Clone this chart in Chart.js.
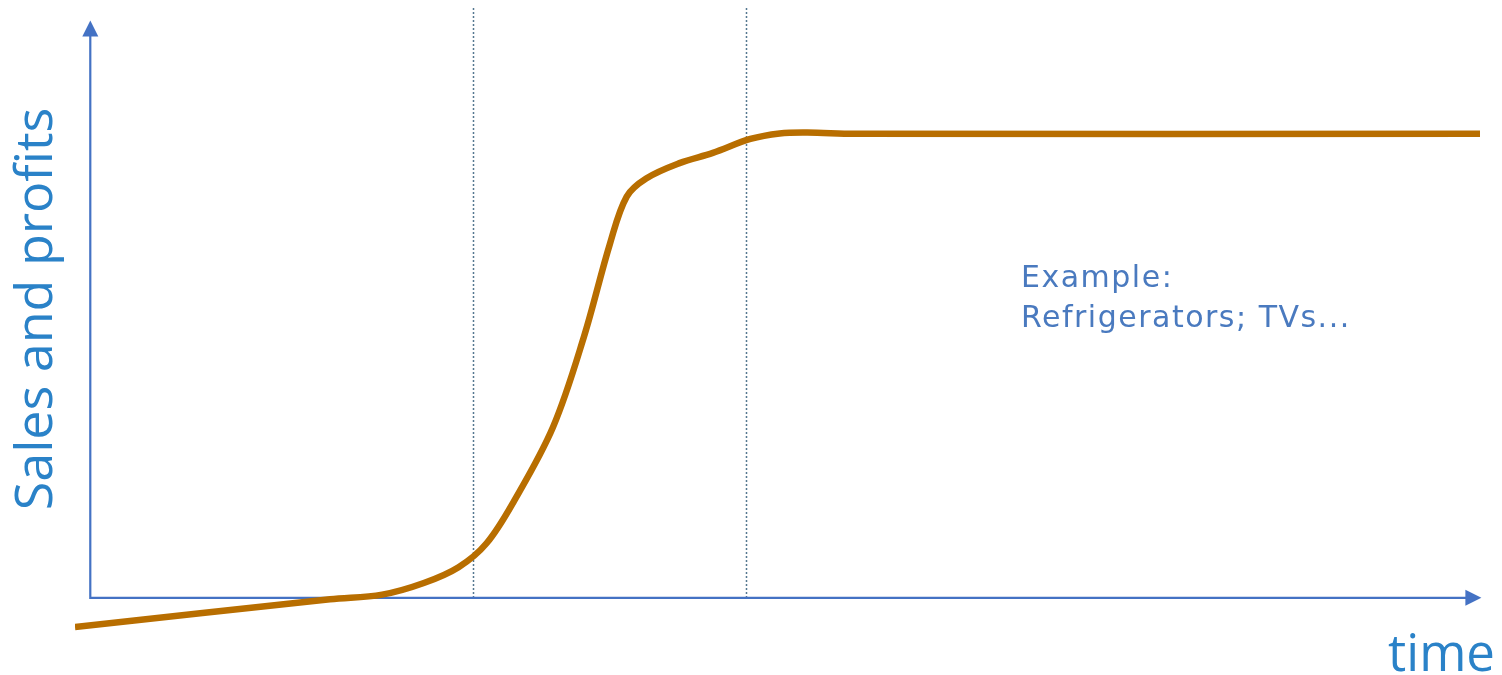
<!DOCTYPE html>
<html>
<head>
<meta charset="utf-8">
<script src="https://cdn.jsdelivr.net/npm/chart.js@4/dist/chart.umd.min.js"></script>
<style>
  html, body { margin: 0; padding: 0; background: #ffffff; }
  #wrap { width: 1502px; height: 675px; position: relative; }
</style>
</head>
<body>
<div id="wrap"><canvas id="c" width="1502" height="675"></canvas></div>
<script>
// Product life cycle: sales and profits over time
const timePoints = [-1.1, 17.25, 21.0, 24.0, 26.5, 28.5, 30.5, 33.3, 35.5, 37.4, 38.6, 40.0, 42.4, 44.8, 47.5, 49.6, 51.6, 55.0, 100];
const salesValues = [-6.3, -0.3, 0.7, 3.2, 6.6, 11.7, 20.9, 36.8, 56.0, 76.3, 86.4, 90.3, 93.6, 95.8, 98.8, 100.0, 100.2, 99.9, 99.9];
const phaseBoundaries = [27.55, 47.2];
const axisEnds = { time: 100.1, sales: 124.3 };
const exampleLines = ['Example:', 'Refrigerators; TVs...'];
const axisTitles = { y: 'Sales and profits', x: 'time' };

const AXIS_COLOR = '#4472c4';
const TITLE_COLOR = '#2a82c8';
const CURVE_COLOR = '#b86e00';

const decorations = {
  id: 'decorations',
  beforeDatasetsDraw(chart) {
    const { ctx, scales: { x, y } } = chart;
    const x0 = x.getPixelForValue(0);
    const y0 = y.getPixelForValue(0);
    ctx.save();
    // phase separators
    ctx.strokeStyle = '#557790';
    ctx.lineWidth = 1.5;
    ctx.setLineDash([2, 2]);
    phaseBoundaries.forEach(t => {
      const px = Math.round(x.getPixelForValue(t)) + 0.5;
      ctx.beginPath();
      ctx.moveTo(px, chart.chartArea.top);
      ctx.lineTo(px, y0);
      ctx.stroke();
    });
    ctx.setLineDash([]);
    // axes
    const yTop = y.getPixelForValue(axisEnds.sales);
    const xEnd = x.getPixelForValue(axisEnds.time);
    ctx.strokeStyle = AXIS_COLOR;
    ctx.fillStyle = AXIS_COLOR;
    ctx.lineWidth = 2.2;
    ctx.beginPath();
    ctx.moveTo(x0, yTop + 10);
    ctx.lineTo(x0, y0);
    ctx.lineTo(xEnd - 10, y0);
    ctx.stroke();
    ctx.beginPath();
    ctx.moveTo(x0, yTop);
    ctx.lineTo(x0 - 8, yTop + 16);
    ctx.lineTo(x0 + 8, yTop + 16);
    ctx.closePath();
    ctx.fill();
    ctx.beginPath();
    ctx.moveTo(xEnd, y0);
    ctx.lineTo(xEnd - 16, y0 - 8);
    ctx.lineTo(xEnd - 16, y0 + 8);
    ctx.closePath();
    ctx.fill();
    ctx.restore();
  },
  afterDraw(chart) {
    const { ctx } = chart;
    ctx.save();
    // axis titles
    ctx.fillStyle = TITLE_COLOR;
    ctx.font = '52px "Open Sans", sans-serif';
    ctx.textAlign = 'center';
    ctx.textBaseline = 'alphabetic';
    ctx.translate(52, 309);
    ctx.rotate(-Math.PI / 2);
    ctx.fillText(axisTitles.y, 0, 0);
    ctx.setTransform(1, 0, 0, 1, 0, 0);
    ctx.font = '51px "Open Sans", sans-serif';
    ctx.textAlign = 'right';
    ctx.fillText(axisTitles.x, 1495, 671);
    // example note
    ctx.fillStyle = '#4a7abf';
    ctx.font = '30px "DejaVu Sans", sans-serif';
    ctx.letterSpacing = '1.5px';
    ctx.textAlign = 'left';
    exampleLines.forEach((line, i) => ctx.fillText(line, 1021, 287 + i * 39.5));
    ctx.restore();
  }
};

new Chart(document.getElementById('c'), {
  type: 'line',
  data: {
    datasets: [{
      data: timePoints.map((t, i) => ({ x: t, y: salesValues[i] })),
      borderColor: CURVE_COLOR,
      borderWidth: 6.5,
      pointRadius: 0,
      fill: false,
      tension: 0.35
    }]
  },
  options: {
    responsive: false,
    animation: false,
    layout: { padding: { left: 75, right: 22, top: 8, bottom: 40 } },
    plugins: { legend: { display: false }, tooltip: { enabled: false } },
    scales: {
      x: { type: 'linear', min: -1.1, max: 100, display: false },
      y: { type: 'linear', min: -8, max: 127, display: false }
    }
  },
  plugins: [decorations]
});
</script>
</body>
</html>
